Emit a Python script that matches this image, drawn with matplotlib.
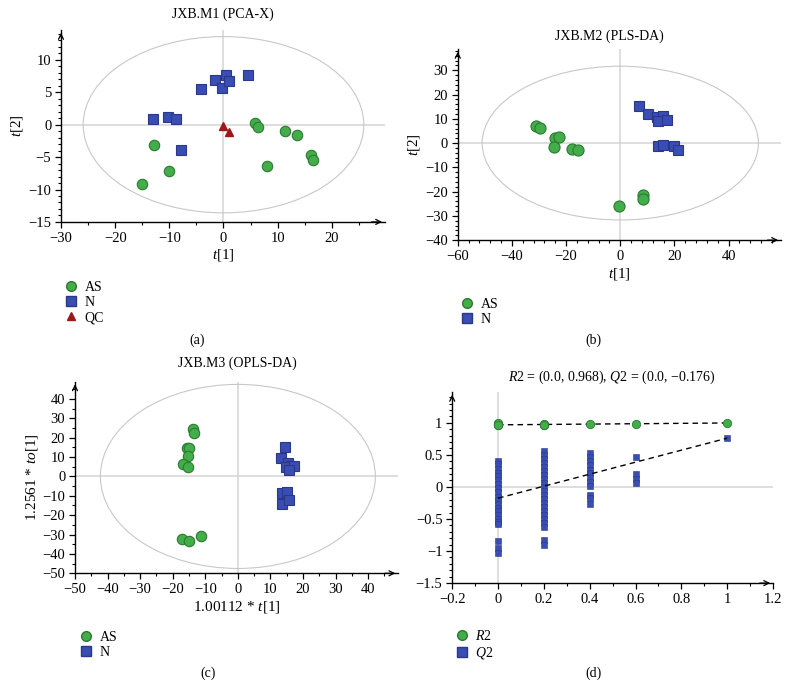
import matplotlib
matplotlib.use("Agg")
import matplotlib.pyplot as plt
from matplotlib.patches import Ellipse
from matplotlib.ticker import MultipleLocator
from matplotlib.lines import Line2D

plt.rcParams['font.family'] = ['Liberation Serif', 'DejaVu Serif']
plt.rcParams['mathtext.fontset'] = 'custom'
plt.rcParams['mathtext.rm'] = 'Liberation Serif'
plt.rcParams['mathtext.it'] = 'Liberation Serif:italic'

GREEN, GREEN_E = '#43ad4a', '#2b7a30'
BLUE, BLUE_E = '#3a4db3', '#2a3888'
RED = '#9a1a1a'
GRID = '#d4d4d4'

# (a) PCA-X scores
a_as_x = [-15.1, -12.8, -10.0, 5.9, 6.4, 8.1, 11.4, 13.5, 16.2, 16.6]
a_as_y = [-9.2, -3.1, -7.2, 0.3, -0.3, -6.4, -0.9, -1.6, -4.6, -5.5]
a_n_x = [-13.0, -10.3, -8.7, -7.8, -4.1, -1.6, -0.2, 0.5, 1.0, 4.5]
a_n_y = [0.9, 1.2, 0.9, -3.9, 5.5, 6.9, 5.7, 7.6, 6.7, 7.6]
a_qc_x = [0.0, 1.0]
a_qc_y = [-0.2, -1.1]
a_ell = (25.9, 13.6)

# (b) PLS-DA scores
b_as_x = [-31.3, -29.6, -24.0, -22.5, -24.5, -17.8, -15.7, -0.3, 8.4, 8.4]
b_as_y = [7.1, 6.2, 1.9, 2.7, -1.7, -2.5, -2.8, -25.8, -21.4, -23.0]
b_n_x = [6.9, 10.2, 13.7, 15.6, 13.9, 17.1, 14.0, 15.6, 20.0, 21.2]
b_n_y = [15.1, 11.8, 10.6, 11.0, 9.3, 9.6, -1.0, -0.7, -1.4, -2.8]
b_ell = (51.0, 31.7)

# (c) OPLS-DA scores
c_as_x = [-13.7, -13.4, -15.7, -14.9, -15.3, -16.8, -15.4, -17.3, -14.9, -11.4]
c_as_y = [24.5, 22.6, 14.8, 14.8, 10.7, 6.2, 4.7, -32.4, -33.5, -30.7]
c_n_x = [14.6, 13.1, 15.4, 16.3, 14.7, 17.2, 15.7, 13.4, 15.2, 13.6, 15.7]
c_n_y = [15.3, 9.3, 6.7, 5.5, 4.7, 5.3, 3.3, -8.5, -8.1, -14.0, -12.2]
c_ell = (42.2, 47.5)

# (d) permutation test
r2_x = [0, 0, 0, 0, 0.2, 0.2, 0.2, 0.4, 0.6, 1.0]
r2_y = [0.96, 0.975, 0.99, 0.97, 0.97, 0.98, 0.965, 0.98, 0.985, 0.997]
q2_x0 = [0.41, 0.35, 0.28, 0.22, 0.17, 0.10, 0.04, -0.02, -0.08, -0.15, -0.20,
         -0.26, -0.33, -0.38, -0.44, -0.50, -0.55, -0.58, -0.84, -0.96, -1.03]
q2_x02 = [0.56, 0.50, 0.44, 0.38, 0.31, 0.25, 0.19, 0.12, 0.06, 0.0, -0.06,
          -0.12, -0.19, -0.25, -0.31, -0.37, -0.44, -0.50, -0.56, -0.63,
          -0.83, -0.91]
q2_x04 = [0.53, 0.47, 0.40, 0.34, 0.27, 0.21, 0.14, 0.08, 0.02, -0.12, -0.18, -0.27]
q2_x06 = [0.47, 0.20, 0.13, 0.06]
q2_x1 = [0.76]
r2_line = ([0.0, 1.0], [0.968, 0.997])
q2_line = ([0.0, 1.0], [-0.176, 0.76])

fig = plt.figure(figsize=(7.92, 7.0), dpi=100)


def minus(v, p):
    return ('%g' % round(v, 1)).replace('-', '\u2212')


def style(ax, xlim, ylim, xmaj, xmin, ymaj, ymin):
    ax.set_xlim(*xlim)
    ax.set_ylim(*ylim)
    for s in ['top', 'right']:
        ax.spines[s].set_visible(False)
    for s in ['left', 'bottom']:
        ax.spines[s].set_linewidth(1.0)
    ax.xaxis.set_major_locator(MultipleLocator(xmaj))
    ax.xaxis.set_minor_locator(MultipleLocator(xmin))
    ax.yaxis.set_major_locator(MultipleLocator(ymaj))
    ax.yaxis.set_minor_locator(MultipleLocator(ymin))
    ax.xaxis.set_major_formatter(plt.FuncFormatter(minus))
    ax.yaxis.set_major_formatter(plt.FuncFormatter(minus))
    ax.tick_params(which='major', direction='out', length=4, width=0.9, labelsize=10.5, pad=3)
    ax.tick_params(which='minor', direction='out', length=2.5, width=0.8)
    ax.axhline(0, color=GRID, lw=1.1, zorder=0)
    ax.axvline(0, color=GRID, lw=1.1, zorder=0)
    kw = dict(arrowstyle='->', lw=0.9, color='k', mutation_scale=9)
    ax.annotate('', xy=(1.0, 0), xytext=(0.95, 0), xycoords='axes fraction', arrowprops=kw)
    ax.annotate('', xy=(0, 1.0), xytext=(0, 0.95), xycoords='axes fraction', arrowprops=kw)


def ellipse(ax, ab):
    ax.add_patch(Ellipse((0, 0), 2 * ab[0], 2 * ab[1], fill=False,
                         edgecolor='#c8c8c8', lw=0.8, zorder=0))


def leg(ax, handles, x, y):
    ax.legend(handles=handles, loc='upper left', bbox_to_anchor=(x, y),
              bbox_transform=fig.transFigure, frameon=False, fontsize=10,
              handlelength=0.8, handletextpad=0.6, labelspacing=0.15, borderpad=0)


h_as = Line2D([], [], ls='none', marker='o', ms=7, mfc=GREEN, mec=GREEN_E, label='AS')
h_n = Line2D([], [], ls='none', marker='s', ms=6.5, mfc=BLUE, mec=BLUE_E, label='N')
h_qc = Line2D([], [], ls='none', marker='^', ms=6, mfc=RED, mec=RED, label='QC')

# ---- (a)
ax = fig.add_axes([0.077, 0.683, 0.409, 0.274])
style(ax, (-30, 29.8), (-15, 14.6), 10, 5, 5, 1)
ellipse(ax, a_ell)
ax.plot(a_as_x, a_as_y, 'o', ms=7.5, mfc=GREEN, mec=GREEN_E, mew=0.8)
ax.plot(a_n_x, a_n_y, 's', ms=7, mfc=BLUE, mec=BLUE_E, mew=0.8)
ax.plot(a_qc_x, a_qc_y, '^', ms=5.5, mfc=RED, mec=RED)
ax.set_xlabel('$t$[1]', fontsize=11, labelpad=2)
ax.set_ylabel('$t$[2]', fontsize=11, labelpad=2)
fig.text(223 / 792, 1 - 14 / 700, 'JXB.M1 (PCA-X)', ha='center', va='center', fontsize=10)
leg(ax, [h_as, h_n, h_qc], 58 / 792, 1 - 274 / 700)
fig.text(197 / 792, 1 - 340 / 700, '(a)', ha='center', va='center', fontsize=10)

# ---- (b)
ax = fig.add_axes([0.578, 0.657, 0.408, 0.273])
style(ax, (-60, 59.3), (-40, 38.8), 20, 4, 10, 2)
ellipse(ax, b_ell)
ax.plot(b_as_x, b_as_y, 'o', ms=8, mfc=GREEN, mec=GREEN_E, mew=0.8)
ax.plot(b_n_x, b_n_y, 's', ms=7, mfc=BLUE, mec=BLUE_E, mew=0.8)
ax.set_xlabel('$t$[1]', fontsize=11, labelpad=2)
ax.set_ylabel('$t$[2]', fontsize=11, labelpad=2)
fig.text(609 / 792, 1 - 36 / 700, 'JXB.M2 (PLS-DA)', ha='center', va='center', fontsize=10)
leg(ax, [h_as, h_n], 454 / 792, 1 - 291 / 700)
fig.text(593 / 792, 1 - 340 / 700, '(b)', ha='center', va='center', fontsize=10)

# ---- (c)
ax = fig.add_axes([0.0947, 0.181, 0.408, 0.274])
style(ax, (-50, 49.2), (-50, 49), 10, 5, 10, 5)
ellipse(ax, c_ell)
ax.plot(c_as_x, c_as_y, 'o', ms=7.5, mfc=GREEN, mec=GREEN_E, mew=0.8)
ax.plot(c_n_x, c_n_y, 's', ms=7, mfc=BLUE, mec=BLUE_E, mew=0.8)
ax.set_xlabel('1.00112 $*$ $t$[1]', fontsize=11, labelpad=2)
ax.set_ylabel('1.2561 $*$ $to$[1]', fontsize=11, labelpad=2)
fig.text(237 / 792, 1 - 363 / 700, 'JXB.M3 (OPLS-DA)', ha='center', va='center', fontsize=10)
leg(ax, [h_as, h_n], 73 / 792, 1 - 624 / 700)
fig.text(208 / 792, 1 - 673 / 700, '(c)', ha='center', va='center', fontsize=10)

# ---- (d)
ax = fig.add_axes([0.571, 0.167, 0.405, 0.273])
style(ax, (-0.2, 1.2), (-1.5, 1.48), 0.2, 0.1, 0.5, 0.1)
ax.plot(*r2_line, '--', color='k', lw=1.0, dashes=(4, 3), zorder=2)
ax.plot(*q2_line, '--', color='k', lw=1.0, dashes=(4, 3), zorder=4)
for xv, ys in [(0.0, q2_x0), (0.2, q2_x02), (0.4, q2_x04), (0.6, q2_x06), (1.0, q2_x1)]:
    ax.plot([xv] * len(ys), ys, 's', ms=4.8, mfc=BLUE, mec=BLUE_E, mew=0.4, zorder=3)
ax.plot(r2_x, r2_y, 'o', ms=6, mfc=GREEN, mec=GREEN_E, mew=0.6, zorder=3)
fig.text(612 / 792, 1 - 377 / 700, '$R2$ = (0.0, 0.968), $Q2$ = (0.0, \u22120.176)',
         ha='center', va='center', fontsize=10)
h_r2 = Line2D([], [], ls='none', marker='o', ms=7, mfc=GREEN, mec=GREEN_E, label='$R2$')
h_q2 = Line2D([], [], ls='none', marker='s', ms=6.5, mfc=BLUE, mec=BLUE_E, label='$Q2$')
leg(ax, [h_r2, h_q2], 449 / 792, 1 - 622 / 700)
fig.text(593 / 792, 1 - 673 / 700, '(d)', ha='center', va='center', fontsize=10)

fig.savefig('out.png', dpi=100)
